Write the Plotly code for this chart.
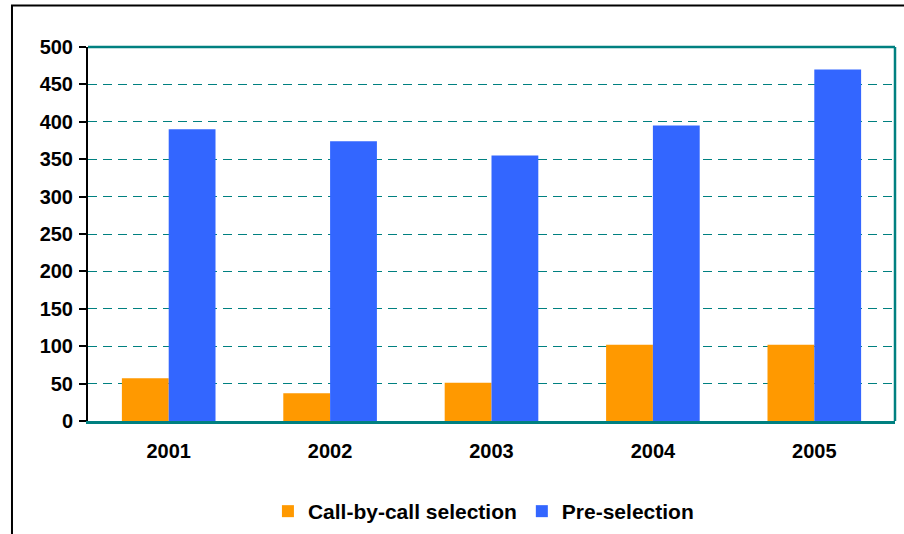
import plotly.graph_objects as go

years = ["2001", "2002", "2003", "2004", "2005"]
call_by_call = [57, 37, 51, 102, 102]
pre_selection = [390, 374, 355, 395, 470]
y_ticks = [0, 50, 100, 150, 200, 250, 300, 350, 400, 450, 500]

TEAL = "#008080"
FONT = "Liberation Sans, Arial, sans-serif"

fig = go.Figure()
fig.add_trace(go.Bar(name="Call-by-call selection", x=years, y=call_by_call,
                     marker=dict(color="#FF9900", line=dict(width=0))))
fig.add_trace(go.Bar(name="Pre-selection", x=years, y=pre_selection,
                     marker=dict(color="#3366FF", line=dict(width=0))))

fig.update_layout(
    width=904, height=534,
    margin=dict(l=88, r=9, t=47, b=113, autoexpand=False),
    paper_bgcolor="white", plot_bgcolor="white",
    barmode="group", bargap=0.42, bargroupgap=0,
    font=dict(family=FONT, size=16, color="black"),
    showlegend=True,
    legend=dict(orientation="h", x=0.49, xanchor="center", y=-0.242, yanchor="middle",
                font=dict(family=FONT, size=21, color="black", weight="bold"),
                itemwidth=30, tracegroupgap=0),
    xaxis=dict(showgrid=False, showline=True, linecolor=TEAL, linewidth=3,
               ticks="", ticklabelstandoff=10, automargin=False,
               tickfont=dict(family=FONT, size=20, color="black", weight="bold")),
    yaxis=dict(range=[0, 500], tickvals=y_ticks, showgrid=True, gridcolor=TEAL,
               griddash="9px,6px", gridwidth=1, zeroline=False, automargin=False,
               showline=True, linecolor="black", linewidth=2,
               ticks="outside", ticklen=7, tickcolor="black", tickwidth=1.5,
               ticklabelstandoff=2,
               tickfont=dict(family=FONT, size=20, color="black", weight="bold")),
    shapes=[
        # top and right edges of the plot frame
        dict(type="line", xref="paper", yref="paper", x0=0, x1=1, y0=1, y1=1,
             line=dict(color=TEAL, width=2.5)),
        dict(type="line", xref="paper", yref="paper", x0=1, x1=1, y0=0, y1=1,
             line=dict(color=TEAL, width=2.5)),
        # outer chart border
        dict(type="rect", xref="paper", yref="paper", x0=-0.0942, x1=1.2,
             y0=-0.6, y1=1.111, line=dict(color="black", width=2),
             fillcolor="rgba(0,0,0,0)", layer="below"),
    ],
)

fig.write_html("out.html")
